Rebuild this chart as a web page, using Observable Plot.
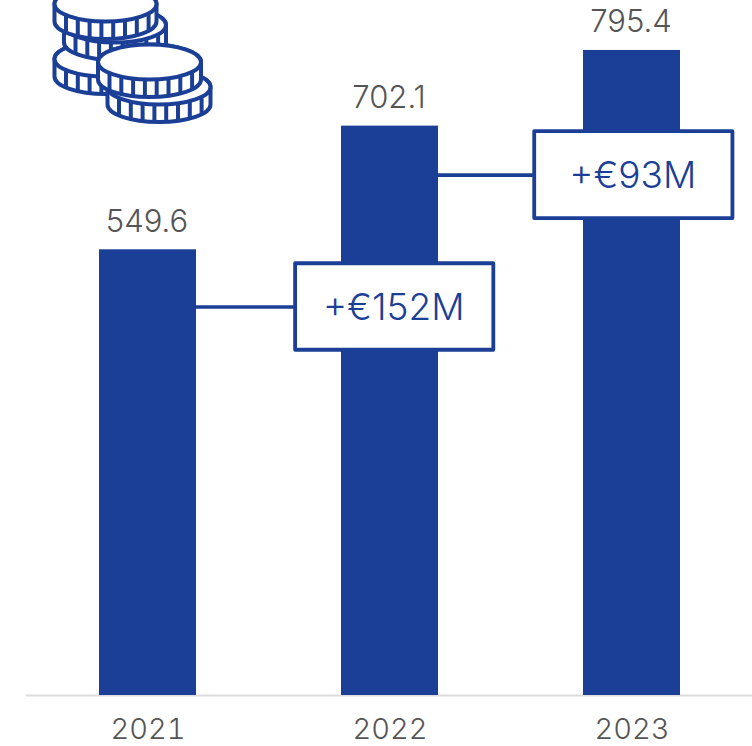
<!DOCTYPE html>
<html>
<head>
<meta charset="utf-8">
<script src="https://cdn.jsdelivr.net/npm/d3@7"></script>
<script src="https://cdn.jsdelivr.net/npm/@observablehq/plot@0.6"></script>
<style>
html,body{margin:0;padding:0;background:#fff;overflow:hidden}
svg{display:block}
</style>
</head>
<body>
<div id="chart"></div>
<script>
const years = [2021, 2022, 2023];
const values = [549.6, 702.1, 795.4];
const valueLabels = ["549.6", "702.1", "795.4"];

const calloutLabels = ["+€152M", "+€93M"];
const calloutFromYear = [2021.2, 2022.2];
const calloutLeft = [2021.61, 2022.598];
const calloutRight = [2022.429, 2023.417];
const calloutLow = [425.7, 588.1];
const calloutHigh = [532.4, 695.2];
const calloutLevel = [479, 641.7];

const BLUE = "#1b3f96";
const FONT = "Inter, 'Open Sans', sans-serif";

const bars = years.map((year, i) => ({year, value: values[i], label: valueLabels[i]}));
const callouts = calloutLabels.map((label, i) => ({
  label,
  from: calloutFromYear[i],
  left: calloutLeft[i],
  right: calloutRight[i],
  low: calloutLow[i],
  high: calloutHigh[i],
  level: calloutLevel[i]
}));

// Decorative coin-stack icon (not data)
function coinIcon() {
  const g = d3.create("svg:g")
    .attr("stroke", BLUE).attr("stroke-width", 4)
    .attr("stroke-linejoin", "round").attr("fill", "#fff");
  const coins = [
    {cx: 105.5, cy: 59, rx: 51},
    {cx: 115, cy: 25, rx: 51},
    {cx: 105.5, cy: 4, rx: 51},
    {cx: 159, cy: 87, rx: 51.5},
    {cx: 149.5, cy: 62, rx: 51.5}
  ];
  const ry = 17.5, depth = 17.5;
  for (const {cx, cy, rx} of coins) {
    g.append("path").attr("d",
      `M${cx - rx},${cy} v${depth} A${rx},${ry} 0 0 0 ${cx + rx},${cy + depth} V${cy} A${rx},${ry} 0 0 0 ${cx - rx},${cy} Z`);
    g.append("ellipse").attr("cx", cx).attr("cy", cy).attr("rx", rx).attr("ry", ry);
    for (let dx = -rx + 11.5; dx < rx - 5; dx += 11.8) {
      const arc = ry * Math.sqrt(1 - (dx / rx) ** 2);
      g.append("line")
        .attr("x1", cx + dx).attr("x2", cx + dx)
        .attr("y1", cy + arc).attr("y2", cy + arc + depth);
    }
  }
  return g.node();
}

const chart = Plot.plot({
  width: 752,
  height: 746,
  marginTop: 0,
  marginLeft: 26,
  marginRight: 0,
  marginBottom: 51,
  style: {background: "#fff", fontFamily: FONT},
  x: {domain: [2020.5, 2023.5], range: [26.5, 752.5]},
  y: {domain: [0, 857], axis: null},
  marks: [
    Plot.ruleY([0], {stroke: "#dcdcdc", strokeWidth: 2}),
    Plot.rect(bars, {
      x1: d => d.year - 0.2004,
      x2: d => d.year + 0.2004,
      y1: 0,
      y2: "value",
      fill: BLUE
    }),
    Plot.text(bars, {
      x: "year", y: "value", text: "label", dy: -28, dx: -1,
      fontSize: 31, fontWeight: 300, fill: "#555", fontFamily: FONT
    }),
    Plot.ruleY(callouts, {
      y: "level", x1: "from", x2: "left", stroke: BLUE, strokeWidth: 3.6
    }),
    Plot.rect(callouts, {
      x1: "left", x2: "right", y1: "low", y2: "high",
      fill: "#fff", stroke: BLUE, strokeWidth: 3.8, strokeLinejoin: "round"
    }),
    Plot.text(callouts, {
      x: d => (d.left + d.right) / 2, y: "level", text: "label", dy: 1, dx: -1,
      fontSize: 37, fontWeight: 300, fill: BLUE, fontFamily: FONT
    }),
    Plot.axisX({
      ticks: years, tickFormat: "d", tickSize: 0, tickPadding: 23,
      fontSize: 29, fontWeight: 300, fill: "#555", label: null, fontFamily: FONT
    }),
    coinIcon
  ]
});
document.getElementById("chart").appendChild(chart);
</script>
</body>
</html>
